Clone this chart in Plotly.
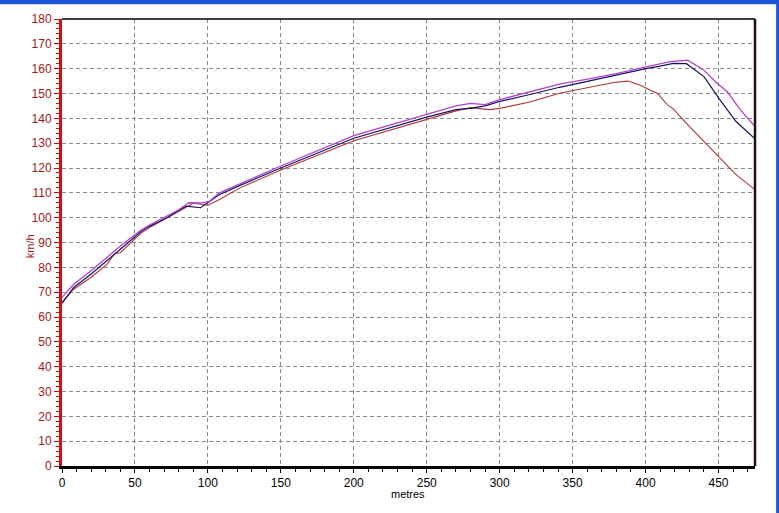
import plotly.graph_objects as go

# distance (metres) and speed (km/h) for three runs
purple_x = [0, 8, 20, 31, 40, 54, 60, 72, 80, 87, 95, 101, 108, 122, 150, 200, 250, 270, 280, 290, 300, 320, 341, 365, 380, 401, 417, 429, 440, 449, 456, 465, 475]
purple_y = [67.9, 73.2, 78.6, 83.9, 88.6, 94.9, 97.0, 100.6, 103.2, 106.0, 105.9, 106.6, 110.0, 113.6, 120.8, 133.0, 141.5, 145.0, 146.0, 145.5, 147.5, 150.5, 153.8, 156.3, 158.0, 160.8, 162.8, 163.4, 159.4, 154.1, 150.7, 143.4, 136.7]

blue_x = [0, 8, 20, 31, 40, 54, 60, 72, 80, 85, 95, 101, 108, 122, 150, 200, 250, 270, 280, 290, 300, 320, 341, 364, 380, 401, 410, 419, 428, 440, 451, 462, 475]
blue_y = [65.5, 71.9, 77.3, 82.6, 87.3, 94.3, 96.5, 100.0, 102.8, 104.6, 104.0, 106.4, 109.3, 113.0, 120.0, 132.0, 140.5, 143.5, 144.0, 145.0, 146.8, 149.5, 152.5, 155.4, 157.5, 160.1, 161.0, 162.1, 162.0, 156.8, 147.4, 138.7, 131.8]

red_x = [0, 8, 20, 31, 36, 40, 54, 60, 72, 80, 90, 100, 108, 122, 150, 200, 250, 270, 280, 293, 300, 320, 341, 364, 378, 388, 396, 403, 408, 415, 419, 428, 440, 451, 462, 475]
red_y = [65.9, 71.2, 76.0, 81.3, 85.5, 85.9, 93.7, 96.0, 100.0, 102.5, 105.8, 105.0, 107.3, 112.0, 119.2, 131.0, 139.5, 143.0, 144.3, 143.5, 144.0, 146.5, 150.1, 152.8, 154.4, 155.0, 153.4, 151.4, 150.1, 145.4, 143.8, 138.0, 130.7, 124.0, 117.3, 111.3]

x_ticks = [0, 50, 100, 150, 200, 250, 300, 350, 400, 450]
y_ticks = list(range(0, 181, 10))

fig = go.Figure()
fig.add_trace(go.Scatter(x=red_x, y=red_y, mode="lines", line=dict(color="#b03434", width=1.1), showlegend=False))
fig.add_trace(go.Scatter(x=blue_x, y=blue_y, mode="lines", line=dict(color="#14145e", width=1.2), showlegend=False))
fig.add_trace(go.Scatter(x=purple_x, y=purple_y, mode="lines", line=dict(color="#b040d4", width=1.3), showlegend=False))

fig.update_layout(
    width=779, height=513,
    margin=dict(l=62, r=24, t=17, b=47),
    paper_bgcolor="white", plot_bgcolor="white",
    font=dict(family="Liberation Sans, Arial, sans-serif", size=12, color="black"),
    xaxis=dict(
        range=[0, 475], tickvals=x_ticks, ticktext=[str(v) for v in x_ticks],
        showgrid=True, gridcolor="#8a8a8a", gridwidth=1, griddash="4px,3px",
        zeroline=False, showline=True, linecolor="black", linewidth=3,
        ticks="outside", ticklen=4, tickcolor="black", tickwidth=1,
        minor=dict(dtick=10, ticks="outside", ticklen=3, tickcolor="black", showgrid=False),
        tickfont=dict(size=12, color="black"),
    ),
    yaxis=dict(
        range=[0, 180], tickvals=y_ticks, ticktext=[str(v) for v in y_ticks],
        showgrid=True, gridcolor="#8a8a8a", gridwidth=1, griddash="4px,3px",
        zeroline=False, showline=True, linecolor="#d01010", linewidth=3,
        ticks="outside", ticklen=5, tickcolor="#c01010", tickwidth=1,
        minor=dict(dtick=2, ticks="outside", ticklen=3, tickcolor="#c01010", showgrid=False),
        tickfont=dict(size=12, color="#a01818"),
    ),
    shapes=[
        dict(type="line", xref="paper", yref="paper", x0=0, x1=1, y0=1, y1=1, line=dict(color="black", width=1.5)),
        dict(type="line", xref="paper", yref="paper", x0=1, x1=1, y0=0, y1=1, line=dict(color="#201010", width=2.5)),
        dict(type="rect", xref="paper", yref="paper", x0=-0.1, x1=1.05, y0=1.033, y1=1.05, line=dict(width=0), fillcolor="#1c56d6"),
        dict(type="rect", xref="paper", yref="paper", x0=1.0305, x1=1.05, y0=-0.12, y1=1.05, line=dict(width=0), fillcolor="#1c56d6"),
    ],
    annotations=[
        dict(text="km/h", xref="paper", yref="paper", x=-0.046, y=0.492, textangle=-90, showarrow=False,
             font=dict(size=11, color="#a01818"), xanchor="center", yanchor="middle"),
        dict(text="metres", xref="paper", yref="paper", x=0.499, y=-0.062, showarrow=False,
             font=dict(size=11, color="black"), xanchor="center", yanchor="middle"),
    ],
)

fig.write_html("out.html", config={"displayModeBar": False},
               post_script="document.body.style.margin='0px';document.body.style.overflow='hidden';")
